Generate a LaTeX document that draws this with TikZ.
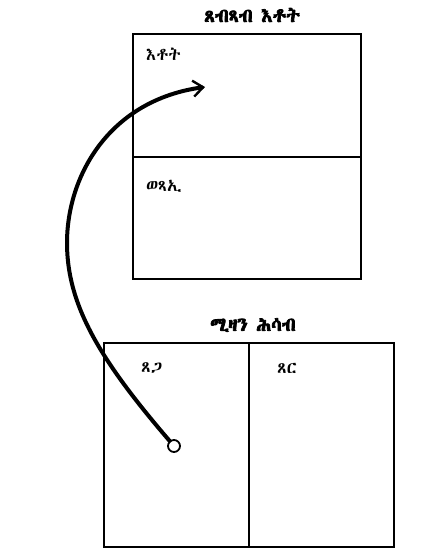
\documentclass[tikz,border=0pt]{standalone}
\usepackage{fontspec}
\newcommand\pickgeez[1]{%
  \newfontfamily\geez[Script=Ethiopic]{#1}%
  \newfontfamily\geezbold[Script=Ethiopic,FakeBold=4]{#1}}
\IfFontExistsTF{Abyssinica SIL}{\pickgeez{Abyssinica SIL}}{%
  \IfFontExistsTF{FreeSerif}{\pickgeez{FreeSerif}}{%
    \IfFontExistsTF{Noto Sans Ethiopic}{\pickgeez{Noto Sans Ethiopic}}{%
      \pickgeez{DejaVu Sans}}}}
\usetikzlibrary{arrows.meta}
\begin{document}
\begin{tikzpicture}[x=1pt, y=-1pt,
    box/.style={line width=2.6pt},
    lbl/.style={anchor=west, font=\geez\fontsize{17}{19}\selectfont, inner sep=0pt},
    ttl/.style={font=\geezbold\fontsize{19}{21}\selectfont, inner sep=0pt}]
  \useasboundingbox (0, 0) rectangle (447, 560);
  % income statement
  \draw [box] (133, 34) rectangle (361, 279);
  \draw [box] (133, 157) -- (361, 157);
  \node (income title) [ttl] at (252, 15) {ጸብጻብ እቶት};
  \node (income) [lbl] at (146, 54) {እቶት};
  \node (expenses) [lbl] at (146, 186) {ወጻኢ};
  % balance sheet
  \draw [box] (104, 343) rectangle (394, 547);
  \draw [box] (249, 343) -- (249, 547);
  \node (balance title) [ttl] at (253, 325) {ሚዛን ሕሳብ};
  \node (assets) [lbl] at (141, 368) {ጸጋ};
  \node (liabilities) [lbl] at (277, 368) {ጸር};
  % flow
  \node (start) [circle, draw, line width=1.8pt, minimum size=12pt, inner sep=0pt] at (174, 446) {};
  \coordinate (tip) at (205, 87);
  \draw [line width=4pt, line cap=round, -{Straight Barb[length=10pt, width=16pt, line width=2.4pt]}]
    (start) .. controls (100, 360) and (67, 305) .. (67, 243)
    .. controls (67, 175) and (110, 100) .. (tip);
\end{tikzpicture}
\end{document}
